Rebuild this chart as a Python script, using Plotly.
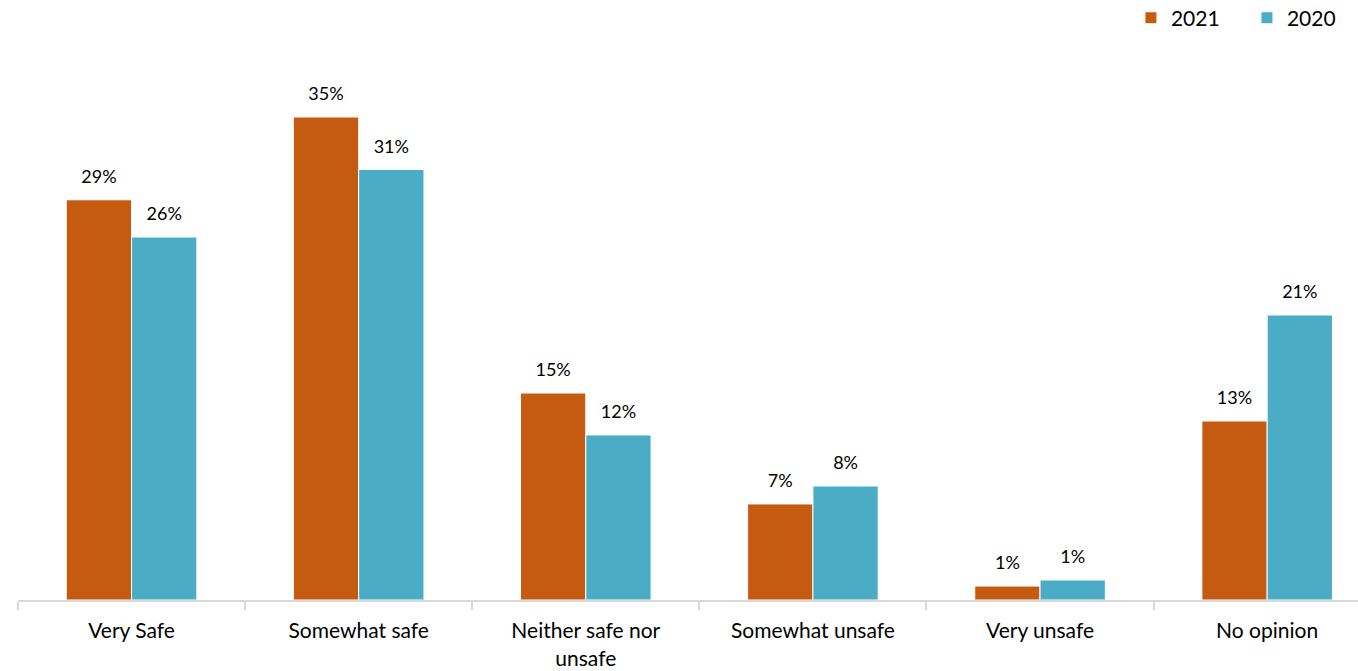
import plotly.graph_objects as go

categories = ["Very Safe", "Somewhat safe", "Neither safe nor<br>unsafe",
              "Somewhat unsafe", "Very unsafe", "No opinion"]
values_2021 = [29.0, 35.0, 15.0, 6.96, 1.01, 12.97]
values_2020 = [26.3, 31.2, 11.96, 8.26, 1.45, 20.65]

font_family = "Lato"

fig = go.Figure()
for name, vals, color in [("2021", values_2021, "#C55A11"),
                          ("2020", values_2020, "#4BACC6")]:
    fig.add_trace(go.Bar(
        name=name, x=categories, y=vals,
        marker=dict(color=color, line=dict(color="white", width=1)),
        texttemplate="<span style='font-size:18px'>%{y:.0f}%</span><br> ",
        textposition="outside", cliponaxis=False, constraintext="none",
        textfont=dict(size=9, color="#000000", family=font_family),
    ))

fig.update_layout(
    width=1358, height=671,
    barmode="group", bargap=0.425, bargroupgap=0,
    plot_bgcolor="white", paper_bgcolor="white",
    margin=dict(l=18, r=0, t=48, b=71, autoexpand=False),
    font=dict(family=font_family, size=21, color="#000000"),
    showlegend=True,
    legend=dict(orientation="h", x=0.8328, xanchor="left", xref="container",
                y=0.973, yanchor="middle", yref="container",
                font=dict(size=21), itemwidth=30,
                traceorder="normal", entrywidth=71),
    xaxis=dict(range=[-0.5, 5.4], showline=True, linecolor="#d9d9d9", linewidth=2,
               ticks="outside", tickson="boundaries", tickcolor="#d9d9d9",
               ticklen=8, tickwidth=2, showgrid=False, ticklabelstandoff=11,
               tickfont=dict(size=21)),
    yaxis=dict(range=[0, 40], visible=False),
)

fig.write_html("out.html")
